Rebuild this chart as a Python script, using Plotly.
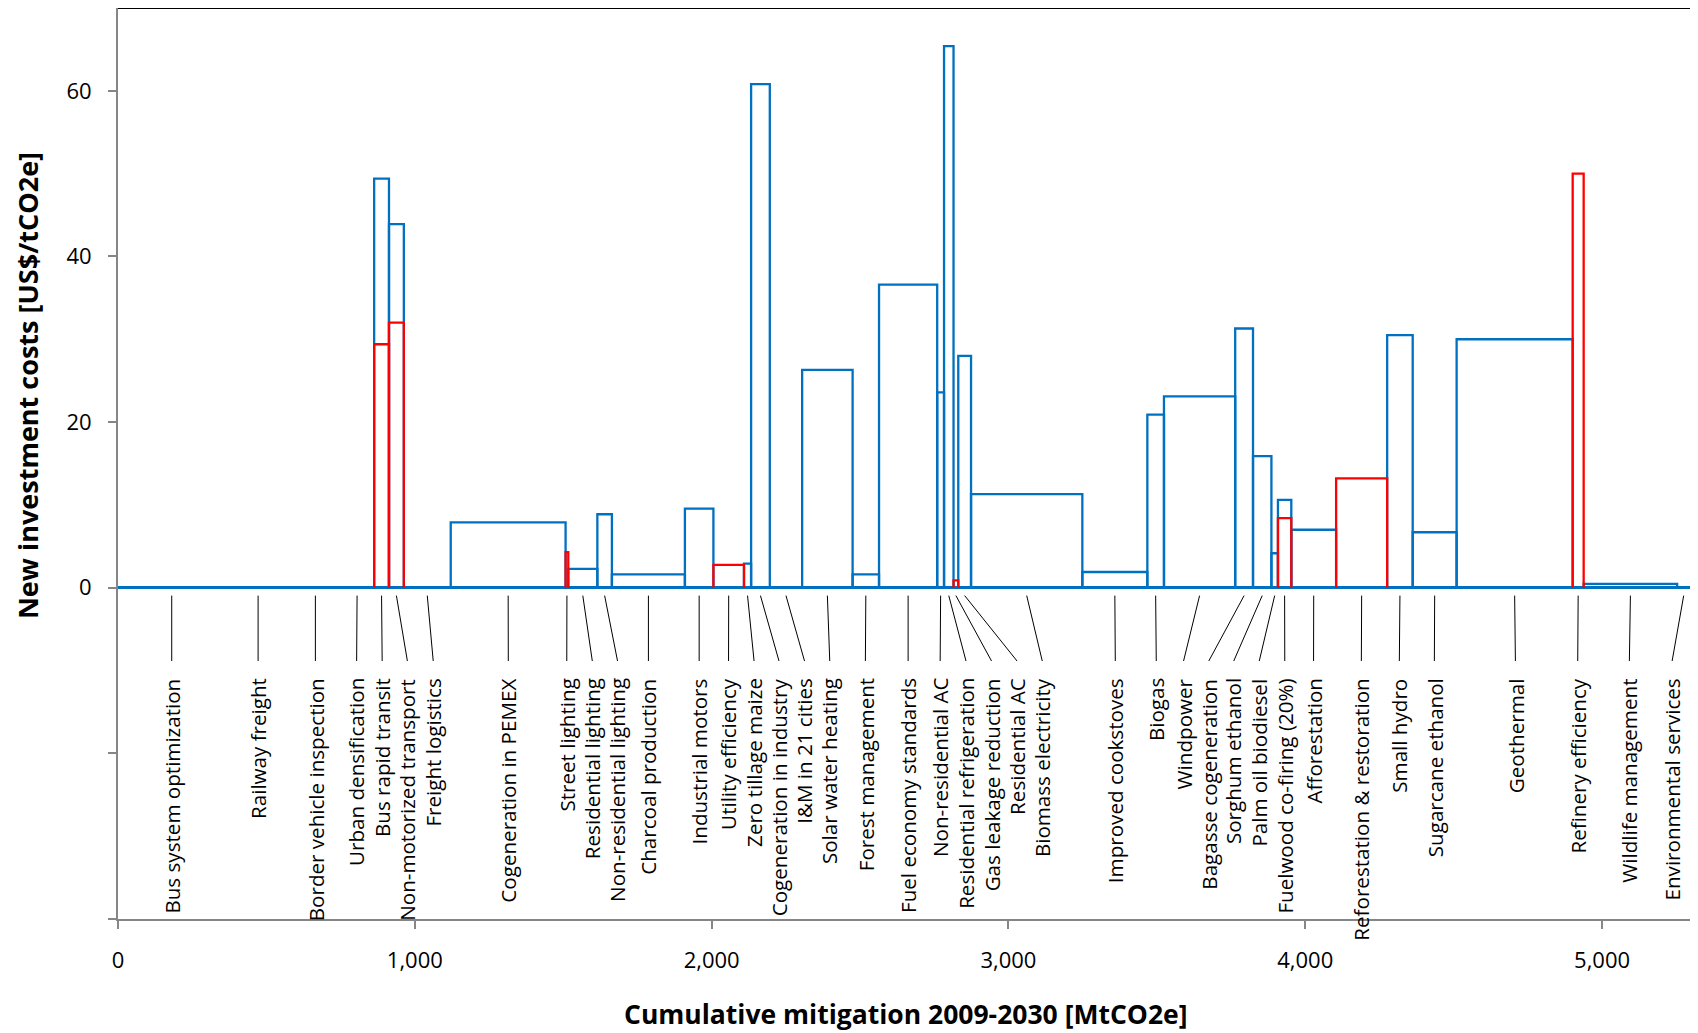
import plotly.graph_objects as go

# ---------------- data ----------------
measures = [
    "Bus system optimization", "Railway freight", "Border vehicle inspection",
    "Urban densification", "Bus rapid transit", "Non-motorized transport",
    "Freight logistics", "Cogeneration in PEMEX", "Street lighting",
    "Residential lighting", "Non-residential lighting", "Charcoal production",
    "Industrial motors", "Utility efficiency", "Zero tillage maize",
    "Cogeneration in industry", "I&M in 21 cities", "Solar water heating",
    "Forest management", "Fuel economy standards", "Non-residential AC",
    "Residential refrigeration", "Gas leakage reduction", "Residential AC",
    "Biomass electricity", "Improved cookstoves", "Biogas", "Windpower",
    "Bagasse cogeneration", "Sorghum ethanol", "Palm oil biodiesel",
    "Fuelwood co-firing (20%)", "Afforestation", "Reforestation & restoration",
    "Small hydro", "Sugarcane ethanol", "Geothermal", "Refinery efficiency",
    "Wildlife management", "Environmental services",
]
# mitigation potential of each measure [MtCO2e] (bar widths)
mitigation = [362, 220, 166, 115, 50, 50, 158, 387, 9, 98, 49, 246, 96, 103,
              24, 63, 109, 170, 89, 196, 23, 32, 16, 43, 375, 219, 56, 240,
              60, 62, 22, 45, 151, 172, 86, 148, 391, 37, 315, 44]
# new investment costs [US$/tCO2e] - blue series
cost_blue = [0, 0, 0, 0, 49.4, 43.9, 0, 7.9, 0, 2.27, 8.87, 1.62, 9.56, 0,
             2.9, 60.8, 0, 26.3, 1.62, 36.6, 23.6, 65.4, 0, 28.0, 11.3, 1.9,
             20.9, 23.1, 31.3, 15.9, 4.16, 10.6, 7.0, 0, 30.5, 6.7, 30.0, 0,
             0.46, 0]
# red series (None = no red bar)
cost_red = [None, None, None, None, 29.4, 32.0, None, None, 4.3, None, None,
            None, None, 2.77, None, None, None, None, None, None, None, None,
            0.88, None, None, None, None, None, None, None, None, 8.4, None,
            13.2, None, None, None, 50.0, None, None]

x_tick_vals = [0, 1000, 2000, 3000, 4000, 5000]
x_tick_text = ["0", "1,000", "2,000", "3,000", "4,000", "5,000"]
y_tick_vals = [-40, -20, 0, 20, 40, 60]
y_tick_text = ["", "", "0", "20", "40", "60"]

# label placement along the x axis (layout, spread to avoid overlaps)
label_x_pos = [181, 472, 665, 804, 890, 975, 1062, 1315, 1512, 1598, 1683,
               1787, 1958, 2057, 2143, 2227, 2313, 2398, 2518, 2662, 2770,
               2857, 2943, 3029, 3114, 3360, 3498, 3590, 3675, 3759, 3845,
               3931, 4028, 4189, 4317, 4435, 4708, 4918, 5092, 5236]

BLUE = "#0070C0"
RED = "#FF0000"
GRAY = "#868686"
FONT = "Open Sans"

# ---------------- build ----------------
starts, ends = [], []
acc = 0
for w in mitigation:
    starts.append(acc)
    acc += w
    ends.append(acc)
centers = [(a + b) / 2 for a, b in zip(starts, ends)]

bx, by = [], []
for a, b, h in zip(starts, ends, cost_blue):
    bx += [a, a, b, b, a, None]
    by += [0, h, h, 0, 0, None]

rx, ry = [], []
for a, b, h in zip(starts, ends, cost_red):
    if h is None:
        continue
    rx += [a, a, b, b, None]
    ry += [0, h, h, 0, None]

lx, ly = [], []
for c, p in zip(centers, label_x_pos):
    lx += [c, p, None]
    ly += [-0.95, -8.85, None]

fig = go.Figure()
fig.add_trace(go.Scatter(x=lx, y=ly, mode="lines",
                         line=dict(color="black", width=1),
                         hoverinfo="skip", showlegend=False))
fig.add_trace(go.Scatter(x=bx, y=by, mode="lines",
                         line=dict(color=BLUE, width=2.3),
                         hoverinfo="skip", showlegend=False))
fig.add_trace(go.Scatter(x=rx, y=ry, mode="lines",
                         line=dict(color=RED, width=2.3),
                         hoverinfo="skip", showlegend=False))

annotations = []
for name, p in zip(measures, label_x_pos):
    annotations.append(dict(x=p, y=-10.7, xref="x", yref="y", text=name,
                            textangle=-90, xanchor="center", yanchor="top",
                            showarrow=False,
                            font=dict(family=FONT, size=20.6, color="black")))

annotations.append(dict(x=-0.0578, y=0.585, xref="paper", yref="paper",
                        text="<b>New investment costs [US$/tCO2e]</b>",
                        textangle=-90, xanchor="center", yanchor="middle",
                        showarrow=False,
                        font=dict(family=FONT, size=27, color="black")))
annotations.append(dict(x=0.5, y=-0.104, xref="paper", yref="paper",
                        text="<b>Cumulative mitigation 2009-2030 [MtCO2e]</b>",
                        xanchor="center", yanchor="middle", showarrow=False,
                        font=dict(family=FONT, size=26.5, color="black")))

fig.update_layout(
    width=1690, height=1025,
    margin=dict(l=110, r=6, t=0, b=114),
    plot_bgcolor="white", paper_bgcolor="white",
    showlegend=False,
    annotations=annotations,
    shapes=[
        dict(type="line", xref="paper", yref="paper", x0=0, x1=1, y0=1, y1=1,
             line=dict(color="black", width=2)),
        dict(type="line", xref="paper", yref="paper", x0=1, x1=1, y0=0, y1=1,
             line=dict(color="black", width=1.5)),
    ],
    xaxis=dict(range=[0, 5303], tickvals=x_tick_vals, ticktext=x_tick_text,
               showgrid=False, zeroline=False, showline=True,
               linecolor=GRAY, linewidth=2, ticks="outside", ticklen=8,
               tickcolor=GRAY, tickwidth=1.5, ticklabelstandoff=13,
               tickfont=dict(family=FONT, size=22, color="black")),
    yaxis=dict(range=[-40, 70], tickvals=y_tick_vals, ticktext=y_tick_text,
               showgrid=False, zeroline=True, zerolinecolor=BLUE,
               zerolinewidth=2.5, showline=True, linecolor=GRAY, linewidth=2,
               ticks="outside", ticklen=8, tickcolor=GRAY, tickwidth=1.5,
               ticklabelstandoff=12,
               tickfont=dict(family=FONT, size=22, color="black")),
)

fig.write_html("out.html")
